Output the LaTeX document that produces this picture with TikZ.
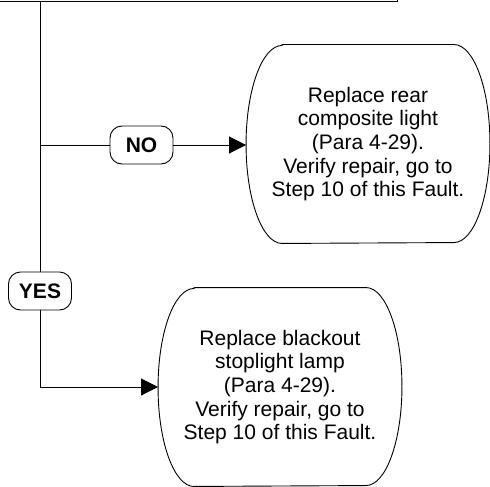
\documentclass[tikz,border=0pt]{standalone}
\usepackage{fontspec}
\setmainfont{Liberation Sans}
\usepackage{tikz}
\usetikzlibrary{arrows.meta, positioning}

% outline of an action box: flat top and bottom, elliptic sides
\newcommand{\capsule}[1]{%
  \draw ([xshift=36pt]#1.north west) -- ([xshift=-36pt]#1.north east)
    arc[start angle=90, end angle=-90, x radius=36pt, y radius=99pt]
    -- ([xshift=36pt]#1.south west)
    arc[start angle=270, end angle=90, x radius=36pt, y radius=99pt] -- cycle;}

\begin{document}
\begin{tikzpicture}[x=1pt, y=1pt, line width=0.9pt,
    act/.style = {minimum width=243pt, minimum height=198pt, inner sep=0pt, align=center, font=\fontsize{21}{23.7}\selectfont},
    ans/.style = {draw, rounded corners=12pt, minimum width=63pt, minimum height=38pt, inner sep=0pt, font=\fontsize{21}{24}\selectfont\bfseries},
    tip/.style = {-{Triangle[length=17pt, width=17pt]}}]

  \useasboundingbox (0,0) rectangle (490,-487);

  % previous step (cut off at the top)
  \node[draw, minimum width=420pt, minimum height=40pt, anchor=south east] (prev) at (398,-1.5) {};

  % NO branch
  \node[ans] (no) at (141.5,-145) {NO};
  \node[act] (fix1) at (368,-144) {Replace rear\\composite light\\(Para 4-29).\\Verify repair, go to\\Step 10 of this Fault.};
  \capsule{fix1}

  % YES branch
  \node[ans] (yes) at (40,-291) {YES};
  \node[act] (fix2) at (280,-387) {Replace blackout\\stoplight lamp\\(Para 4-29).\\Verify repair, go to\\Step 10 of this Fault.};
  \capsule{fix2}

  % connectors
  \draw (prev.south -| yes) -- (yes);
  \draw (no -| yes) -- (no);
  \draw[tip] (no) -- (no -| fix1.west);
  \draw[tip] (yes) |- (fix2);
\end{tikzpicture}
\end{document}
